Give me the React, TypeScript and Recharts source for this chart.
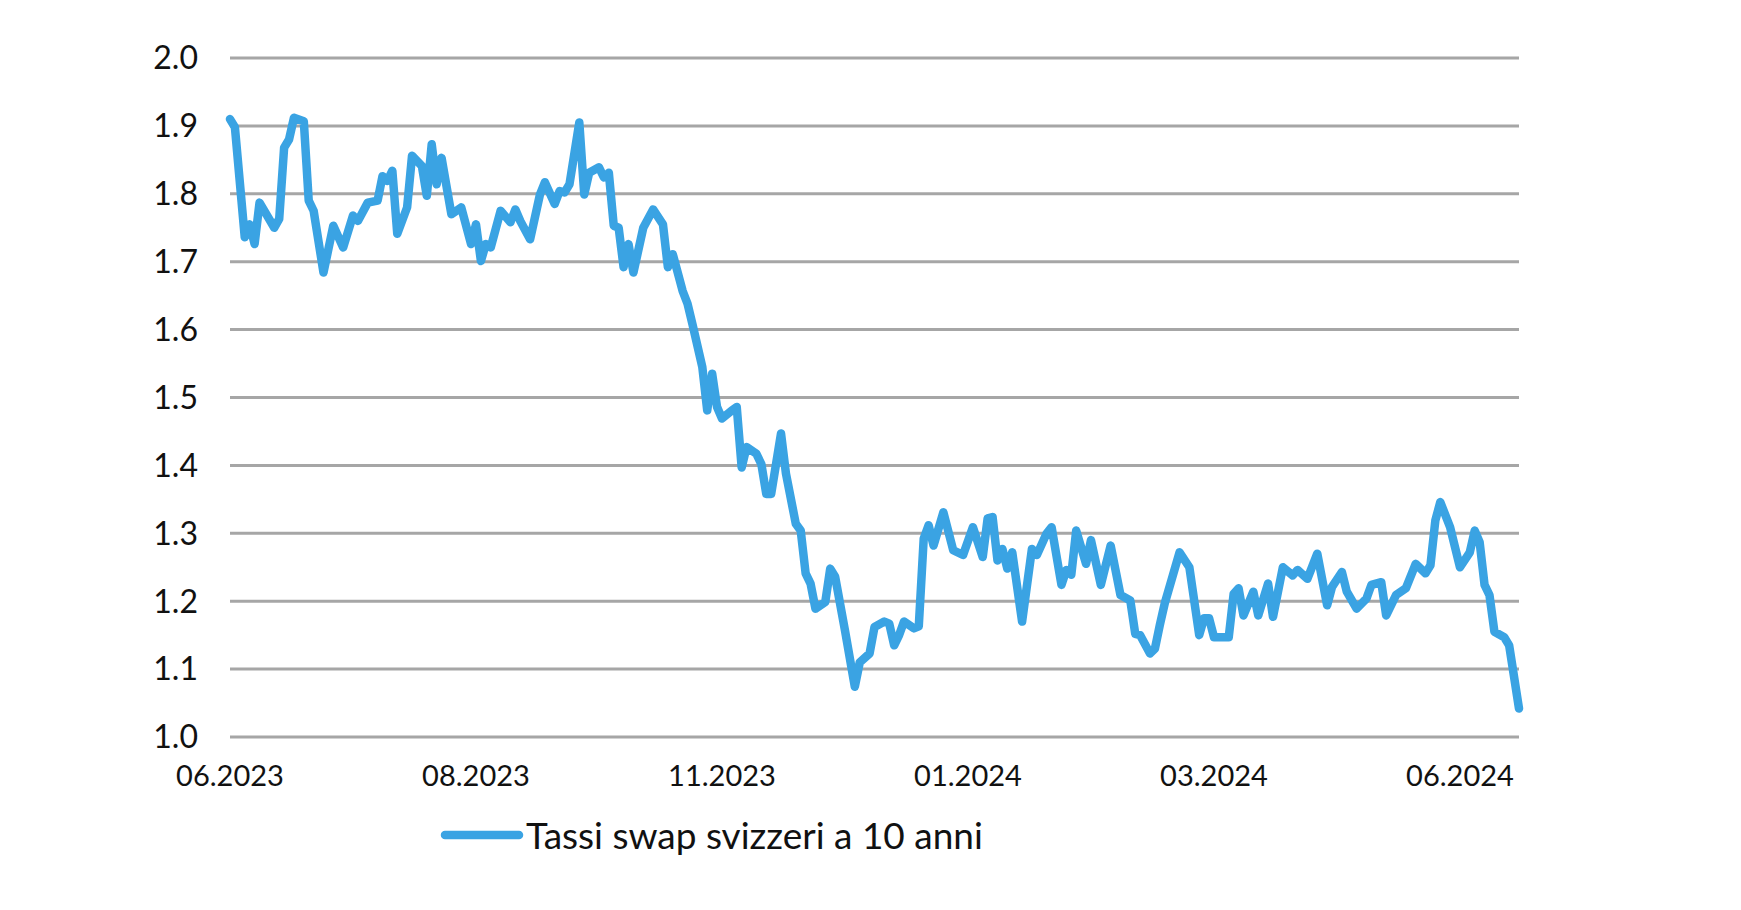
import React from 'react';
import { LineChart, Line, XAxis, YAxis, CartesianGrid, Legend } from 'recharts';

// Trading-day index of each sampled point (0 = mid June 2023, 262 = late June 2024)
const dayIndex = [
  0, 1, 3, 4, 5, 6, 9, 10, 11, 12, 13, 15, 16, 17, 19, 21, 23, 25, 26, 28,
  30, 31, 32, 33, 34, 36, 37, 39, 40, 41, 42, 43, 45, 47, 49, 50, 51, 52, 53, 55,
  57, 58, 59, 61, 63, 64, 66, 67, 68, 69, 71, 72, 73, 75, 76, 77, 78, 79, 80, 81,
  82, 84, 86, 88, 89, 90, 92, 93, 94, 96, 97, 98, 99, 100, 102, 103, 104, 105, 107, 108,
  109, 110, 112, 113, 115, 116, 117, 118, 119, 121, 122, 123, 125, 127, 128, 130, 131, 133, 134, 135,
  136, 137, 139, 140, 141, 142, 143, 145, 147, 149, 151, 153, 154, 155, 156, 157, 158, 159, 161, 163,
  164, 166, 167, 169, 170, 171, 172, 174, 175, 177, 179, 181, 183, 184, 185, 187, 188, 189, 190, 193,
  195, 197, 198, 199, 200, 203, 204, 205, 206, 208, 209, 211, 212, 214, 216, 217, 219, 221, 223, 224,
  226, 227, 229, 231, 232, 234, 235, 237, 239, 241, 243, 244, 245, 246, 248, 250, 252, 253, 254, 255,
  256, 257, 259, 260, 262,
];

// Swiss 10-year swap rate (%)
const swapRates = [
  1.910, 1.898, 1.736, 1.755, 1.726, 1.787, 1.750, 1.763, 1.868, 1.880, 1.912, 1.907, 1.790, 1.775, 1.684, 1.753, 1.721, 1.768, 1.760, 1.787,
  1.790, 1.826, 1.819, 1.834, 1.741, 1.780, 1.856, 1.841, 1.797, 1.873, 1.814, 1.853, 1.770, 1.780, 1.726, 1.755, 1.701, 1.726, 1.721, 1.775,
  1.758, 1.777, 1.760, 1.733, 1.799, 1.817, 1.785, 1.804, 1.802, 1.814, 1.905, 1.799, 1.831, 1.839, 1.824, 1.831, 1.753, 1.750, 1.692, 1.726,
  1.684, 1.750, 1.777, 1.755, 1.692, 1.711, 1.657, 1.638, 1.608, 1.545, 1.481, 1.535, 1.486, 1.469, 1.481, 1.486, 1.397, 1.427, 1.417, 1.402,
  1.358, 1.358, 1.447, 1.388, 1.314, 1.304, 1.241, 1.226, 1.189, 1.199, 1.248, 1.236, 1.157, 1.074, 1.110, 1.123, 1.162, 1.170, 1.167, 1.135,
  1.150, 1.170, 1.160, 1.163, 1.292, 1.312, 1.282, 1.331, 1.275, 1.268, 1.309, 1.265, 1.322, 1.324, 1.260, 1.277, 1.248, 1.272, 1.170, 1.277,
  1.268, 1.300, 1.309, 1.224, 1.246, 1.239, 1.304, 1.255, 1.290, 1.224, 1.282, 1.209, 1.201, 1.152, 1.150, 1.123, 1.130, 1.165, 1.197, 1.272,
  1.250, 1.150, 1.175, 1.175, 1.147, 1.147, 1.211, 1.219, 1.179, 1.214, 1.179, 1.226, 1.177, 1.250, 1.238, 1.246, 1.233, 1.270, 1.194, 1.221,
  1.243, 1.214, 1.189, 1.204, 1.224, 1.228, 1.179, 1.209, 1.219, 1.255, 1.241, 1.253, 1.319, 1.346, 1.309, 1.250, 1.272, 1.304, 1.287, 1.224,
  1.209, 1.155, 1.147, 1.135, 1.042,
];

const xTickPositions = [0, 50, 100, 150, 200, 250];
const xTickLabels = ['06.2023', '08.2023', '11.2023', '01.2024', '03.2024', '06.2024'];
const yTicks = [1.0, 1.1, 1.2, 1.3, 1.4, 1.5, 1.6, 1.7, 1.8, 1.9, 2.0];
const seriesName = 'Tassi swap svizzeri a 10 anni';

const LINE_COLOR = '#3AA3E3';
const FONT = 'Lato, "Open Sans", sans-serif';

const data = dayIndex.map((d, i) => ({ day: d, rate: swapRates[i] }));

const renderLegend = () => (
  <div
    style={{
      display: 'flex',
      alignItems: 'center',
      fontFamily: FONT,
      fontSize: 37,
      color: '#111',
      whiteSpace: 'nowrap',
      lineHeight: '44px',
    }}
  >
    <svg width={84} height={14}>
      <line x1={5} y1={7} x2={79} y2={7} stroke={LINE_COLOR} strokeWidth={8.5} strokeLinecap="round" />
    </svg>
    <span style={{ marginLeft: 2 }}>{seriesName}</span>
  </div>
);

export default function App() {
  return (
    <div style={{ width: 1725, height: 890, background: '#fff' }}>
      <LineChart
        width={1725}
        height={890}
        data={data}
        margin={{ top: 50, right: 214, bottom: 121, left: 162 }}
      >
        <CartesianGrid vertical={false} stroke="#A6A6A6" strokeWidth={3} />
        <XAxis
          dataKey="day"
          type="number"
          domain={[0, 262]}
          ticks={xTickPositions}
          tickFormatter={(v: number) => xTickLabels[xTickPositions.indexOf(v)] ?? ''}
          axisLine={false}
          tickLine={false}
          tickSize={0}
          tickMargin={28}
          height={40}
          interval={0}
          tick={{ fontFamily: FONT, fontSize: 29, fill: '#111' }}
        />
        <YAxis
          type="number"
          domain={[1.0, 2.0]}
          ticks={yTicks}
          tickFormatter={(v: number) => v.toFixed(1)}
          axisLine={false}
          tickLine={false}
          tickSize={0}
          tickMargin={32}
          width={60}
          interval={0}
          tick={{ fontFamily: FONT, fontSize: 32, fill: '#111' }}
        />
        <Legend
          layout="horizontal"
          verticalAlign="middle"
          align="center"
          content={renderLegend}
          wrapperStyle={{ left: 432, top: 805, width: 'auto' }}
        />
        <Line
          type="linear"
          dataKey="rate"
          name={seriesName}
          stroke={LINE_COLOR}
          strokeWidth={8.5}
          strokeLinejoin="round"
          strokeLinecap="round"
          dot={false}
          activeDot={false}
          isAnimationActive={false}
        />
      </LineChart>
    </div>
  );
}
